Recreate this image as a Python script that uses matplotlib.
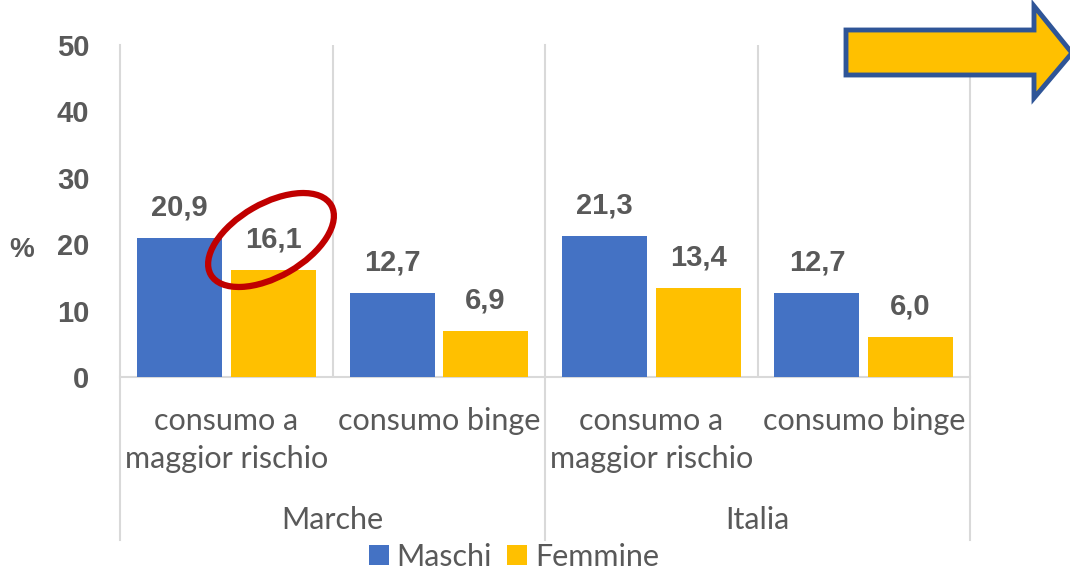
import matplotlib
matplotlib.use("Agg")
import matplotlib.pyplot as plt
from matplotlib.patches import Ellipse, Polygon
from matplotlib.transforms import blended_transform_factory, IdentityTransform

plt.rcParams['font.family'] = ['Lato', 'DejaVu Sans']
BOLD = ['Liberation Sans', 'DejaVu Sans']

# data
groups = ['Marche', 'Italia']
categories = ['consumo a\nmaggior rischio', 'consumo binge',
              'consumo a\nmaggior rischio', 'consumo binge']
maschi = [20.9, 12.7, 21.3, 12.7]
femmine = [16.1, 6.9, 13.4, 6.0]
series_names = ['Maschi', 'Femmine']
colors = ['#4472C4', '#FFC000']
grey = '#595959'
line_grey = '#D9D9D9'

W, H = 1070, 573
fig = plt.figure(figsize=(W / 100, H / 100), dpi=100)
ax = fig.add_axes([120 / W, 1 - 377 / H, 850 / W, 332 / H])

x = list(range(len(categories)))
bw = 0.4
off = 0.22
b1 = ax.bar([i - off for i in x], maschi, bw, color=colors[0], label=series_names[0], zorder=3)
b2 = ax.bar([i + off for i in x], femmine, bw, color=colors[1], label=series_names[1], zorder=3)

for bars, vals in ((b1, maschi), (b2, femmine)):
    for r, v in zip(bars, vals):
        ax.annotate(f'{v:.1f}'.replace('.', ','), (r.get_x() + r.get_width() / 2, v),
                    xytext=(0, 22), textcoords='offset points', ha='center', va='center',
                    fontsize=21, fontweight='bold', family=BOLD, color=grey)

ax.set_xlim(-0.5, len(categories) - 0.5)
ax.set_ylim(0, 50)
ax.set_yticks(range(0, 51, 10))
ax.tick_params(axis='y', length=0, pad=22, labelsize=21, labelcolor=grey)
for t in ax.get_yticklabels():
    t.set_fontweight('bold')
    t.set_family(BOLD)
ax.set_xticks([])
for s in ['top', 'right', 'left']:
    ax.spines[s].set_visible(False)
ax.spines['bottom'].set_color(line_grey)
ax.spines['bottom'].set_linewidth(1.5)

bt = blended_transform_factory(ax.transData, fig.transFigure)
fig.text(22 / W, 1 - 250 / H, '%', ha='center', va='center', fontsize=20, fontweight='bold',
         family=BOLD, color=grey)

# vertical separators
for xv in [0.5, 2.5]:
    ax.axvline(xv, color=line_grey, lw=1.5, zorder=1)
for xv in [-0.5, 1.5, 3.5]:
    ax.plot([xv, xv], [33 / H, 1 - 45 / H], transform=bt, color=line_grey, lw=1.5,
            clip_on=False, zorder=1)

# category and group labels
for i, c in enumerate(categories):
    ax.text(i, 1 - 407 / H, c, transform=bt, ha='center', va='top', fontsize=22,
            color=grey, linespacing=1.45)
for g, gx in zip(groups, [0.5, 2.5]):
    ax.text(gx, 1 - 520 / H, g, transform=bt, ha='center', va='center', fontsize=22, color=grey)

leg = fig.legend(loc='center', bbox_to_anchor=(514 / W, 1 - 557 / H), ncol=2, frameon=False,
                 fontsize=22, handlelength=0.65, handleheight=0.65, handletextpad=0.25,
                 columnspacing=0.5, borderpad=0)
for t in leg.get_texts():
    t.set_color(grey)

# red ellipse around the Femmine value in Marche
ell = Ellipse((271, H - 240), 139, 73, angle=30, fill=False, edgecolor='#C00000', lw=4.5,
              transform=IdentityTransform(), zorder=5)
fig.patches.append(ell)

# yellow arrow top right
arrow = Polygon([(846, H - 30), (1034, H - 30), (1034, H - 6), (1072, H - 53),
                 (1034, H - 98), (1034, H - 75), (846, H - 75)], closed=True,
                facecolor='#FFC000', edgecolor='#2F5597', lw=3.5, transform=IdentityTransform())
fig.patches.append(arrow)

fig.savefig('out.png', dpi=100)
